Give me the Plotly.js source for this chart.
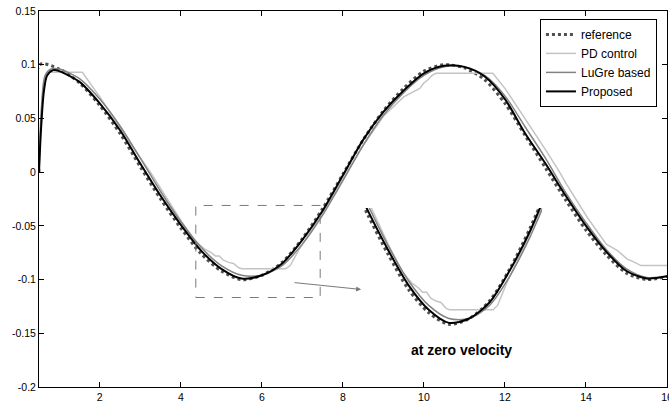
<!DOCTYPE html>
<html>
<head>
<meta charset="utf-8">
<script src="https://cdn.plot.ly/plotly-3.0.1.min.js"></script>
<style>
html,body{margin:0;padding:0;background:#fff;}
#chart{width:669px;height:403px;}
</style>
</head>
<body>
<div id="chart"></div>
<script>
// ---- data ----
const refT = [0.5, 0.52, 1.0, 1.5, 2.0, 2.5, 3.0, 3.5, 4.0, 4.5, 5.0, 5.5, 6.0, 6.5, 7.0, 7.5, 8.0, 8.5, 9.0, 9.5, 10.0, 10.5, 11.0, 11.5, 12.0, 12.5, 13.0, 13.5, 14.0, 14.5, 15.0, 15.5, 16.0];
const refV = [0.0, 0.100, 0.096, 0.083, 0.062, 0.036, 0.005, -0.025, -0.052, -0.076, -0.092, -0.100, -0.096, -0.084, -0.062, -0.034, -0.002, 0.030, 0.057, 0.078, 0.094, 0.100, 0.097, 0.086, 0.064, 0.034, 0.004, -0.026, -0.054, -0.077, -0.094, -0.100, -0.097];

const pdT = [0.5, 0.55, 0.62, 0.72, 1.57, 2.0, 2.35, 2.8, 3.25, 3.5, 4.0, 4.35, 4.6, 4.75, 4.85, 4.95, 5.05, 5.18, 5.3, 5.43, 5.51, 6.59, 6.7, 6.92, 7.5, 8.0, 8.5, 9.0, 9.5, 9.9, 10.0, 10.1, 10.2, 10.3, 11.7, 12.0, 12.5, 13.0, 13.35, 13.5, 14.03, 14.5, 14.78, 14.9, 15.02, 15.15, 15.27, 15.36, 16.0];
const pdV = [0.0, 0.050, 0.085, 0.093, 0.093, 0.070, 0.050, 0.024, 0.000, -0.015, -0.045, -0.064, -0.072, -0.075, -0.078, -0.078, -0.082, -0.084, -0.085, -0.089, -0.090, -0.090, -0.087, -0.072, -0.038, -0.006, 0.025, 0.052, 0.070, 0.078, 0.083, 0.086, 0.090, 0.092, 0.092, 0.078, 0.050, 0.021, 0.000, -0.010, -0.042, -0.067, -0.073, -0.077, -0.081, -0.083, -0.085, -0.087, -0.087];

const lugreT = [0.5, 0.56, 0.65, 0.8, 1.0, 1.5, 2.0, 2.5, 3.0, 3.5, 4.0, 4.5, 5.0, 5.5, 6.0, 6.5, 7.0, 7.5, 8.0, 8.5, 9.0, 9.5, 10.0, 10.5, 11.0, 11.5, 12.0, 12.5, 13.0, 13.5, 14.0, 14.5, 15.0, 15.5, 16.0];
const lugreV = [0.0, 0.060, 0.090, 0.096, 0.096, 0.087, 0.068, 0.043, 0.013, -0.018, -0.046, -0.070, -0.087, -0.096, -0.096, -0.087, -0.067, -0.040, -0.008, 0.025, 0.053, 0.074, 0.090, 0.098, 0.098, 0.090, 0.071, 0.042, 0.013, -0.019, -0.047, -0.072, -0.090, -0.098, -0.097];

const propT = [0.5, 0.55, 0.62, 0.7, 0.85, 1.0, 1.5, 2.0, 2.5, 3.0, 3.5, 4.0, 4.5, 5.0, 5.5, 6.0, 6.5, 7.0, 7.5, 8.0, 8.5, 9.0, 9.5, 10.0, 10.5, 11.0, 11.5, 12.0, 12.5, 13.0, 13.5, 14.0, 14.5, 15.0, 15.5, 16.0];
const propV = [0.0, 0.040, 0.075, 0.090, 0.095, 0.094, 0.084, 0.064, 0.039, 0.008, -0.022, -0.049, -0.073, -0.090, -0.099, -0.096, -0.085, -0.063, -0.036, -0.003, 0.030, 0.056, 0.076, 0.092, 0.099, 0.098, 0.089, 0.068, 0.036, 0.008, -0.022, -0.050, -0.074, -0.092, -0.099, -0.097];

const seriesNames = ["reference", "PD control", "LuGre based", "Proposed"];
const xTickVals = [2, 4, 6, 8, 10, 12, 14, 16];
const xTickText = ["2", "4", "6", "8", "10", "12", "14", "16"];
const yTickVals = [0.15, 0.1, 0.05, 0, -0.05, -0.1, -0.15, -0.2];
const yTickText = ["0.15", "0.1", "0.05", "0", "-0.05", "-0.1", "-0.15", "-0.2"];
const noteText = "at zero velocity";

// ---- styles ----
const FONT = "'Liberation Sans', Arial, sans-serif";
const styles = [
  {color: "#505050", width: 3, dash: "dot", shape: "spline"},
  {color: "#c4c4c4", width: 1.5, dash: "solid", shape: "linear"},
  {color: "#828282", width: 1.5, dash: "solid", shape: "spline"},
  {color: "#000000", width: 2, dash: "solid", shape: "spline"}
];
const xs = [refT, pdT, lugreT, propT];
const ys = [refV, pdV, lugreV, propV];

const traces = [];
for (let i = 0; i < 4; i++) {
  traces.push({
    x: xs[i], y: ys[i], name: seriesNames[i], type: "scatter", mode: "lines",
    line: {color: styles[i].color, width: styles[i].width, dash: styles[i].dash, shape: styles[i].shape, smoothing: 0.8},
    xaxis: "x", yaxis: "y", hoverinfo: "skip"
  });
}
for (let i = 0; i < 4; i++) {
  traces.push({
    x: xs[i], y: ys[i], name: seriesNames[i], type: "scatter", mode: "lines", showlegend: false,
    line: {color: styles[i].color, width: styles[i].width, dash: styles[i].dash, shape: styles[i].shape, smoothing: 0.8},
    xaxis: "x2", yaxis: "y2", hoverinfo: "skip"
  });
}

const axisCommon = {
  showgrid: false, zeroline: false, showline: true, linecolor: "#000", linewidth: 1,
  mirror: "allticks", ticks: "inside", ticklen: 5, tickwidth: 1, tickcolor: "#000",
  tickfont: {family: FONT, size: 10.5, color: "#000"}, automargin: false, fixedrange: true,
  ticklabeloverflow: "allow"
};

const layout = {
  width: 669, height: 403,
  margin: {l: 39, r: 2, t: 11, b: 16, pad: 0},
  paper_bgcolor: "#fff", plot_bgcolor: "#fff",
  showlegend: true,
  legend: {
    x: 0.984, xanchor: "right", y: 0.979, yanchor: "top",
    bgcolor: "#fff", bordercolor: "#000", borderwidth: 1,
    font: {family: FONT, size: 12, color: "#000"},
    tracegroupgap: 0, itemwidth: 30
  },
  xaxis: Object.assign({}, axisCommon, {range: [0.5, 16], tickmode: "array", tickvals: xTickVals, ticktext: xTickText, domain: [0, 1]}),
  yaxis: Object.assign({}, axisCommon, {range: [-0.2, 0.15], tickmode: "array", tickvals: yTickVals, ticktext: yTickText, domain: [0, 1]}),
  xaxis2: {domain: [0.5174, 0.8011], range: [3.4, 7.8], anchor: "y2", visible: false, fixedrange: true},
  yaxis2: {domain: [0.128, 0.476], range: [-0.11, -0.02], anchor: "x2", visible: false, fixedrange: true},
  shapes: [
    {type: "rect", xref: "x", yref: "y", x0: 4.37, x1: 7.44, y0: -0.1167, y1: -0.031,
     line: {color: "#7a7a7a", width: 1, dash: "dash"}, fillcolor: "rgba(0,0,0,0)"}
  ],
  annotations: [
    {xref: "x", yref: "y", axref: "x", ayref: "y", x: 8.45, y: -0.1092, ax: 6.77, ay: -0.1027,
     showarrow: true, arrowhead: 2, arrowsize: 1, arrowwidth: 1, arrowcolor: "#7a7a7a", text: ""},
    {xref: "x", yref: "y", x: 10.92, y: -0.166, text: "<b>" + noteText + "</b>", showarrow: false,
     font: {family: FONT, size: 14, color: "#000"}}
  ]
};

Plotly.newPlot("chart", traces, layout, {staticPlot: true, displayModeBar: false});
</script>
</body>
</html>
